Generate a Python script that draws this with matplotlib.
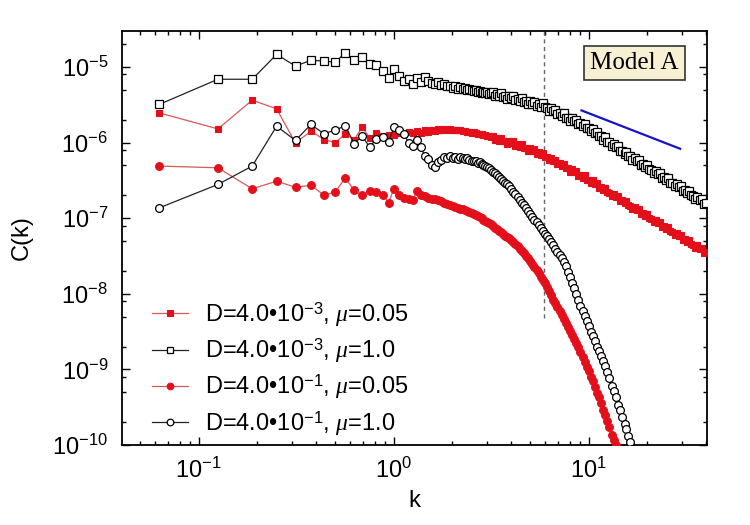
import numpy as np
import matplotlib
matplotlib.use("Agg")
import matplotlib.pyplot as plt
from matplotlib.ticker import LogLocator, NullFormatter

plt.rcParams['font.family'] = ['Liberation Sans', 'DejaVu Sans']
plt.rcParams['mathtext.fontset'] = 'custom'
plt.rcParams['mathtext.rm'] = 'Liberation Sans'
plt.rcParams['mathtext.sf'] = 'Liberation Sans'
plt.rcParams['mathtext.it'] = 'Liberation Serif:italic'
plt.rcParams['mathtext.bf'] = 'Liberation Sans:bold'

# ---------------- data ----------------
k_low = [0.0628, 0.1257, 0.1885, 0.2513, 0.3142, 0.3770, 0.4398, 0.5027, 0.5655, 0.6283,
         0.6912, 0.7540, 0.8168, 0.8796, 0.9425, 1.0053, 1.0681, 1.1310, 1.1938, 1.2566,
         1.3195, 1.3823, 1.4451, 1.5080, 1.5708, 1.6336, 1.6965, 1.7593, 1.8221, 1.8850]
k_mid = [1.948, 2.011, 2.073, 2.136, 2.199, 2.262, 2.325, 2.388, 2.450, 2.513,
         2.576, 2.639, 2.702, 2.765, 2.827, 2.890, 2.953, 3.016, 3.079, 3.142]
k_high = [3.22, 3.30, 3.39, 3.47, 3.56, 3.65, 3.74, 3.83, 3.93, 4.02,
          4.12, 4.22, 4.33, 4.44, 4.55, 4.66, 4.78, 4.90, 5.02, 5.15,
          5.28, 5.41, 5.55, 5.69, 5.83, 5.97, 6.12, 6.28, 6.43, 6.60,
          6.76, 6.93, 7.10, 7.28, 7.46, 7.65, 7.84, 8.04, 8.24, 8.44,
          8.65, 8.87, 9.09, 9.32, 9.55, 9.79, 10.0, 10.3, 10.5, 10.8,
          11.1, 11.3, 11.6, 11.9, 12.2, 12.5, 12.8, 13.2, 13.5, 13.8,
          14.2, 14.5, 14.9, 15.3, 15.6, 16.0, 16.4, 16.8, 17.3, 17.7,
          18.1, 18.6, 19.1, 19.5, 20.0, 20.5, 21.0, 21.6, 22.1, 22.7,
          23.2, 23.8, 24.4, 25.0, 25.6, 26.3, 26.9, 27.6, 28.3, 29.0,
          29.7, 30.5, 31.2, 32.0, 32.8, 33.6, 34.5, 35.3, 36.2, 37.1,
          38.0, 39.0, 39.8]
k_all = k_low + k_mid + k_high

# D=4.0e-3, mu=0.05 (red filled squares), values in units of 1e-6
c_d3_mu005 = [2.48, 1.52, 3.65, 2.80, 0.99, 1.42, 1.10, 1.00, 1.30, 1.10,
              1.60, 1.16, 1.35, 1.22, 1.28, 1.25, 1.35, 1.30, 1.38, 1.33,
              1.42, 1.36, 1.45, 1.40, 1.47, 1.43, 1.50, 1.46, 1.52, 1.48,
              1.50, 1.47, 1.49, 1.45, 1.46, 1.42, 1.43, 1.40, 1.39, 1.36,
              1.37, 1.33, 1.32, 1.30, 1.29, 1.26, 1.25, 1.22, 1.21, 1.18,
              1.23, 1.08, 1.14, 1.06, 1.16, 1.04, 1.05, 0.968, 1.06, 0.978,
              1.04, 0.909, 0.953, 0.876, 0.952, 0.844, 0.849, 0.778, 0.849, 0.773,
              0.817, 0.716, 0.751, 0.684, 0.737, 0.647, 0.643, 0.584, 0.631, 0.566,
              0.594, 0.514, 0.534, 0.485, 0.522, 0.457, 0.456, 0.414, 0.446, 0.403,
              0.421, 0.364, 0.377, 0.344, 0.370, 0.324, 0.324, 0.291, 0.316, 0.282,
              0.292, 0.254, 0.262, 0.235, 0.254, 0.220, 0.219, 0.196, 0.211, 0.190,
              0.196, 0.170, 0.175, 0.157, 0.171, 0.148, 0.147, 0.133, 0.142, 0.127,
              0.134, 0.114, 0.117, 0.108, 0.114, 0.0999, 0.0991, 0.0891, 0.0960, 0.0858,
              0.0898, 0.0770, 0.0796, 0.0719, 0.0773, 0.0670, 0.0667, 0.0602, 0.0645, 0.0580,
              0.0603, 0.0520, 0.0538, 0.0486, 0.0520, 0.0454, 0.0448, 0.0406, 0.0436, 0.0392,
              0.0407, 0.0350, 0.0363]

# D=4.0e-3, mu=1.0 (black open squares), values in units of 1e-6
c_d3_mu1 = [3.2, 6.9, 6.9, 14.7, 10.3, 12.3, 12.0, 11.6, 15.5, 12.3,
            13.6, 11.0, 10.5, 8.9, 7.2, 9.3, 7.6, 6.5, 6.9, 5.9,
            7.2, 6.4, 7.4, 6.5, 6.2, 5.9, 6.3, 5.8, 5.9, 5.6,
            5.7, 5.3, 5.6, 5.2, 5.4, 5.1, 5.3, 4.9, 5.1, 5.0,
            4.8, 5.0, 4.7, 4.85, 4.6, 4.75, 4.5, 4.65, 4.45, 4.55,
            4.71, 4.16, 4.40, 4.09, 4.49, 4.02, 4.08, 3.79, 4.18, 3.85,
            4.10, 3.62, 3.81, 3.53, 3.87, 3.46, 3.51, 3.24, 3.57, 3.27,
            3.49, 3.08, 3.24, 3.00, 3.30, 2.92, 2.91, 2.65, 2.88, 2.60,
            2.73, 2.37, 2.47, 2.26, 2.44, 2.13, 2.14, 1.95, 2.11, 1.91,
            2.00, 1.74, 1.81, 1.66, 1.79, 1.57, 1.58, 1.41, 1.52, 1.35,
            1.39, 1.21, 1.23, 1.10, 1.18, 1.02, 1.01, 0.898, 0.966, 0.865,
            0.890, 0.769, 0.785, 0.706, 0.763, 0.664, 0.658, 0.596, 0.634, 0.569,
            0.594, 0.509, 0.524, 0.477, 0.510, 0.444, 0.441, 0.397, 0.426, 0.380,
            0.399, 0.341, 0.353, 0.319, 0.342, 0.297, 0.295, 0.266, 0.286, 0.257,
            0.266, 0.229, 0.237, 0.214, 0.229, 0.200, 0.197, 0.179, 0.191, 0.172,
            0.179, 0.154, 0.159]

# D=4.0e-1, mu=0.05 (red filled circles)
c_d1_mu005 = [4.9e-7, 4.65e-7, 2.45e-7, 3.09e-7, 2.57e-7, 2.73e-7, 2.02e-7, 2.23e-7, 3.42e-7, 2.33e-7,
              2.02e-7, 2.28e-7, 2.23e-7, 2.06e-7, 1.60e-7, 2.47e-7, 2.06e-7, 1.87e-7, 1.82e-7, 1.75e-7,
              2.30e-7, 2.06e-7, 1.95e-7, 1.87e-7, 1.82e-7, 1.78e-7, 1.74e-7, 1.68e-7, 1.60e-7, 1.52e-7,
              1.48e-7, 1.44e-7, 1.40e-7, 1.37e-7, 1.34e-7, 1.31e-7, 1.28e-7, 1.25e-7, 1.22e-7, 1.19e-7,
              1.15e-7, 1.12e-7, 1.08e-7, 1.04e-7, 1.00e-7, 9.6e-8, 9.3e-8, 9.0e-8, 8.7e-8, 8.3e-8,
              7.9e-8, 7.5e-8, 7.2e-8, 6.85e-8, 6.5e-8, 6.2e-8, 5.9e-8, 5.65e-8, 5.4e-8, 5.15e-8,
              4.9e-8, 4.55e-8, 4.25e-8, 3.95e-8, 3.7e-8, 3.45e-8, 3.2e-8, 2.97e-8, 2.74e-8, 2.48e-8,
              2.25e-8, 2.06e-8, 1.87e-8, 1.69e-8, 1.53e-8, 1.38e-8, 1.22e-8, 1.08e-8,
              9.6e-9, 8.4e-9, 7.5e-9, 6.6e-9, 5.9e-9, 5.2e-9, 4.6e-9, 4.06e-9, 3.62e-9, 3.2e-9,
              2.83e-9, 2.52e-9, 2.23e-9, 1.97e-9, 1.70e-9, 1.47e-9, 1.26e-9, 1.08e-9,
              9.46e-10, 7.87e-10, 7.02e-10, 5.91e-10, 4.92e-10, 4.30e-10, 3.57e-10, 2.92e-10,
              2.47e-10, 2.05e-10, 1.73e-10, 1.37e-10, 1.18e-10, 9.95e-11, 8.1e-11]

# D=4.0e-1, mu=1.0 (black open circles)
c_d1_mu1 = [1.37e-7, 2.8e-7, 4.9e-7, 1.65e-6, 1.07e-6, 1.74e-6, 1.31e-6, 1.47e-6, 1.67e-6, 9.7e-7,
            1.22e-6, 8.7e-7, 1.13e-6, 1.18e-6, 1.03e-6, 1.60e-6, 1.46e-6, 1.30e-6, 1.00e-6, 9.0e-7,
            1.10e-6, 8.7e-7, 6.6e-7, 6.0e-7, 5.1e-7, 4.8e-7, 5.6e-7, 5.9e-7, 6.4e-7, 6.2e-7,
            6.6e-7, 6.3e-7, 6.5e-7, 6.1e-7, 6.4e-7, 6.2e-7, 6.0e-7, 6.3e-7, 5.9e-7, 5.8e-7,
            5.7e-7, 5.8e-7, 5.4e-7, 5.5e-7, 5.2e-7, 5.0e-7, 4.9e-7, 4.7e-7, 4.6e-7, 4.4e-7,
            4.15e-7, 3.92e-7, 3.70e-7, 3.51e-7, 3.31e-7, 3.13e-7, 2.95e-7, 2.80e-7, 2.64e-7, 2.45e-7,
            2.25e-7, 2.07e-7, 1.90e-7, 1.74e-7, 1.60e-7, 1.48e-7, 1.35e-7, 1.24e-7, 1.14e-7, 1.04e-7,
            9.55e-8, 8.83e-8, 8.09e-8, 7.42e-8, 6.81e-8, 6.28e-8, 5.74e-8, 5.25e-8, 4.83e-8, 4.36e-8,
            3.97e-8, 3.58e-8, 3.26e-8, 2.94e-8, 2.65e-8, 2.30e-8, 1.97e-8, 1.67e-8, 1.41e-8, 1.20e-8,
            1.00e-8, 8.32e-9, 6.93e-9, 5.94e-9, 5.07e-9, 4.32e-9, 3.79e-9, 3.14e-9, 2.79e-9, 2.35e-9,
            1.98e-9, 1.77e-9, 1.52e-9, 1.28e-9, 1.11e-9, 9.34e-10, 7.78e-10, 6.02e-10, 5.12e-10, 4.26e-10,
            3.42e-10, 2.90e-10, 2.33e-10, 1.87e-10, 1.62e-10, 1.32e-10, 1.08e-10, 8.9e-11]

labels = [r"D=4.0•10$^{-3}$, $\mu$=0.05",
          r"D=4.0•10$^{-3}$, $\mu$=1.0",
          r"D=4.0•10$^{-1}$, $\mu$=0.05",
          r"D=4.0•10$^{-1}$, $\mu$=1.0"]

# reference power law k^-1 and cut-off line
slope_k = [9.2, 29.5]
slope_c = [2.67e-6, 8.3e-7]
k_cut = 5.9
cut_c = [4.8e-9, 3.0e-5]

# ---------------- figure ----------------
fig = plt.figure(figsize=(7.5, 5.25), dpi=100)
ax = fig.add_axes([122/750, 1-445/525, 585/750, 414/525])

red = '#e3101c'
redline = '#d85858'

y1 = np.array(c_d3_mu005) * 1e-6
y2 = np.array(c_d3_mu1) * 1e-6

ax.plot(k_all[:len(y1)], y1, color=redline, lw=0.9,
        marker='s', ms=4.9, mfc=red, mec=red, mew=0.8, label=labels[0], zorder=3)
ax.plot(k_all[:len(y2)], y2, color='#222222', lw=0.9,
        marker='s', ms=5.6, mfc='white', mec='black', mew=0.9, label=labels[1], zorder=4)
ax.plot(k_all[:len(c_d1_mu005)], c_d1_mu005, color=redline, lw=0.9,
        marker='o', ms=5.6, mfc=red, mec=red, mew=0.8, label=labels[2], zorder=5)
ax.plot(k_all[:len(c_d1_mu1)], c_d1_mu1, color='#222222', lw=0.9,
        marker='o', ms=5.6, mfc='white', mec='black', mew=0.9, label=labels[3], zorder=6)

ax.plot(slope_k, slope_c, color='#1515c8', lw=1.6, zorder=7)
ax.plot([k_cut, k_cut], cut_c, color='#666666', lw=1.0, ls=(0, (3, 2.5)), zorder=2)

ax.set_xscale('log')
ax.set_yscale('log')
ax.set_xlim(0.0405, 40.5)
ax.set_ylim(1e-10, 3.0e-5)

ax.yaxis.set_major_locator(LogLocator(base=10, numticks=20))
ax.yaxis.set_minor_locator(LogLocator(base=10, subs=(2.0, 5.0, 8.0), numticks=20))
ax.yaxis.set_minor_formatter(NullFormatter())
ax.xaxis.set_minor_locator(LogLocator(base=10, subs=np.arange(2, 10), numticks=20))
ax.xaxis.set_minor_formatter(NullFormatter())

ax.tick_params(which='both', direction='in', top=True, right=True, labelsize=17, width=1.0)
ax.tick_params(which='major', length=6)
ax.tick_params(which='minor', length=3)
ax.tick_params(axis='x', which='major', pad=9)
ax.tick_params(axis='y', which='major', pad=10)
for s in ax.spines.values():
    s.set_linewidth(1.3)

ax.set_xlabel('k', fontsize=17, labelpad=5)
ax.set_ylabel('C(k)', fontsize=17, labelpad=14)

ax.text(0.876, 0.923, 'Model A', transform=ax.transAxes, ha='center', va='center',
        fontsize=18, family='Liberation Serif', zorder=10,
        bbox=dict(boxstyle='square,pad=0.25', fc='#f7f0d2', ec='#333333', lw=1.2))

leg = ax.legend(loc='center left', bbox_to_anchor=(0.051, 0.184), frameon=False,
                fontsize=17, handlelength=1.55, handletextpad=0.7, borderpad=0,
                borderaxespad=0, labelspacing=0.32, markerscale=0.85)

fig.savefig('out.png', dpi=100)
